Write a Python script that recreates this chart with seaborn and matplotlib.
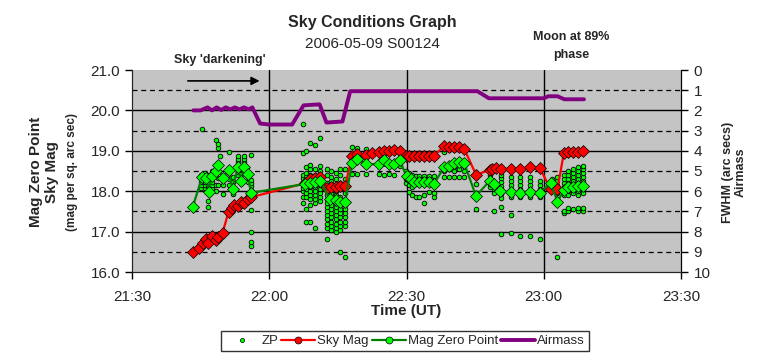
import numpy as np
import pandas as pd
import matplotlib
matplotlib.use("Agg")
import matplotlib.pyplot as plt
from matplotlib.lines import Line2D
import seaborn as sns

# Tiempo en minutos despues de 21:30 UT
sky_time = [13.3, 14.7, 15.5, 16.2, 16.7, 17.4, 18.3, 18.9, 19.8, 21.1, 21.8, 22.4, 23.1, 23.8,
            24.5, 25.3, 26.0, 37.9, 39.0, 40.1, 41.2, 42.6, 43.4, 44.5, 45.5, 46.6, 48.1, 49.2,
            51.2, 52.5, 53.9, 55.0, 56.1, 57.2, 58.5, 59.8, 60.5, 61.6, 62.7, 63.8, 64.9, 66.0,
            68.2, 69.3, 70.4, 71.5, 72.6, 75.2, 78.2, 78.7, 79.5, 80.6, 82.8, 84.7, 86.9, 89.1,
            91.5, 93.0, 94.4, 95.2, 96.3, 97.4, 98.6]
sky_mag = [16.50, 16.60, 16.73, 16.81, 16.73, 16.89, 16.79, 16.87, 16.97, 17.49, 17.58, 17.66,
           17.64, 17.74, 17.72, 17.80, 17.85, 18.20, 18.29, 18.32, 18.34, 18.07, 18.10, 18.10,
           18.12, 18.13, 18.88, 18.91, 18.90, 18.95, 18.97, 18.99, 19.00, 19.01, 19.00, 18.87,
           18.87, 18.87, 18.87, 18.87, 18.87, 18.87, 19.12, 19.09, 19.09, 19.09, 19.05, 18.41,
           18.52, 18.55, 18.57, 18.54, 18.56, 18.56, 18.59, 18.58, 18.05, 18.06, 18.95, 18.96,
           18.96, 18.96, 18.99]

mzp_time = [13.3, 15.3, 16.2, 16.9, 17.4, 18.3, 18.9, 19.8, 21.1, 22.0, 23.1, 23.9, 24.5, 25.3,
            26.0, 37.9, 39.0, 40.1, 41.2, 43.2, 44.5, 45.5, 46.6, 48.1, 49.2, 51.2, 53.9, 55.0,
            56.1, 57.2, 58.5, 60.0, 60.9, 61.6, 62.7, 63.8, 64.9, 66.0, 68.2, 69.3, 70.4, 71.5,
            72.6, 75.2, 78.2, 79.1, 80.4, 82.8, 84.7, 86.9, 89.1, 91.5, 93.0, 94.4, 95.3, 96.3,
            97.4, 98.6]
mzp_mag = [17.62, 18.34, 18.32, 17.99, 18.38, 18.51, 18.65, 18.32, 18.52, 18.05, 18.61, 18.26,
           18.61, 18.43, 17.96, 18.18, 18.21, 18.23, 18.25, 17.80, 17.78, 17.74, 17.74, 18.71,
           18.80, 18.67, 18.67, 18.77, 18.67, 18.67, 18.76, 18.38, 18.29, 18.22, 18.22, 18.22,
           18.22, 18.18, 18.59, 18.62, 18.71, 18.72, 18.70, 17.88, 18.26, 18.18, 18.00, 17.97,
           17.96, 17.99, 17.96, 18.21, 17.74, 18.03, 18.11, 18.11, 18.13, 18.13]

airmass_time = [13.4, 15.0, 16.5, 17.5, 18.5, 19.5, 20.5, 21.5, 22.5, 23.5, 24.5, 25.5, 26.3,
                28.0, 30.0, 35.0, 37.5, 41.0, 42.5, 46.0, 47.7, 75.5, 78.0, 90.0, 91.0, 93.0,
                94.5, 98.8]
airmass = [2.00, 2.00, 1.85, 2.00, 1.85, 1.98, 1.85, 1.95, 1.85, 1.95, 1.85, 1.95, 1.85, 2.65,
           2.70, 2.70, 1.75, 1.70, 2.60, 2.55, 1.05, 1.05, 1.40, 1.40, 1.30, 1.30, 1.45, 1.45]

# ZP individuales: (tiempo, lista de magnitudes)
zp_columns = [
    (13.3, [17.55]),
    (15.0, [18.08, 18.16, 18.24, 18.32, 18.40]),
    (15.4, [19.54]),
    (16.0, [18.08, 18.16, 18.24, 18.32, 18.40, 18.46]),
    (16.7, [17.60, 17.76, 18.08, 18.16, 18.24, 18.40]),
    (17.4, [18.08, 18.16, 18.24, 18.40, 18.50]),
    (18.3, [18.00, 18.16, 18.50, 19.27]),
    (18.9, [18.16, 18.32, 18.60, 18.70, 19.08, 19.16]),
    (19.3, [18.88]),
    (19.8, [17.92, 18.16, 18.30]),
    (21.2, [18.16, 18.30, 18.44, 18.98]),
    (22.0, [17.92, 18.10, 18.24, 18.36]),
    (23.1, [18.40, 18.48, 18.56, 18.64, 18.72, 18.80, 18.88]),
    (23.9, [18.20, 18.30, 18.42]),
    (24.5, [18.48, 18.56, 18.64, 18.72, 18.80, 18.88]),
    (25.3, [18.22, 18.34]),
    (26.0, [16.65, 16.74, 17.00, 17.53, 17.80, 17.96, 18.04, 18.12, 18.20, 18.28, 18.90]),
    (37.4, [17.70, 17.85, 18.00, 18.08, 18.16, 18.24, 18.32, 18.40, 18.95, 19.66]),
    (38.1, [17.25, 17.55, 17.85, 17.95, 18.05, 18.15, 18.25, 18.35, 18.45, 18.60, 19.00]),
    (39.0, [17.25, 17.65, 17.80, 17.90, 18.00, 18.10, 18.20, 18.30, 18.40, 18.55, 18.65, 19.19]),
    (40.1, [17.10, 17.70, 17.80, 17.90, 18.00, 18.10, 18.20, 18.40, 18.55, 19.14]),
    (41.2, [17.75, 17.85, 17.95, 18.05, 18.15, 18.35, 18.50, 18.62, 19.32]),
    (42.6, [16.82, 17.10, 17.20, 17.30, 17.40, 17.50, 17.60, 17.70, 17.80, 17.90, 18.00, 18.20,
            18.40, 18.55]),
    (43.4, [17.05, 17.15, 17.25, 17.35, 17.45, 17.55, 17.65, 17.85, 17.95, 18.05, 18.25, 18.35,
            18.50]),
    (44.5, [17.00, 17.10, 17.20, 17.30, 17.40, 17.50, 17.60, 17.70, 17.90, 18.00, 18.15, 18.30,
            18.45]),
    (45.5, [16.49, 17.05, 17.15, 17.25, 17.35, 17.45, 17.55, 17.65, 17.85, 18.05, 18.20, 18.40,
            18.55]),
    (46.6, [16.38, 17.15, 17.25, 17.35, 17.45, 17.55, 17.65, 17.75, 17.95, 18.10, 18.30, 18.55]),
    (48.1, [18.42, 19.10]),
    (49.2, [18.42, 19.08]),
    (51.2, [18.42, 19.04]),
    (53.9, [18.42]),
    (55.0, [18.40]),
    (56.1, [18.42]),
    (57.2, [18.40]),
    (58.5, [18.62, 18.70]),
    (59.8, [18.20, 18.30, 18.40, 18.50]),
    (60.5, [17.99, 18.15, 18.25, 18.35, 18.45]),
    (61.2, [17.90, 18.10, 18.20, 18.30, 18.40]),
    (62.0, [17.85, 18.18, 18.28, 18.38]),
    (62.7, [17.85, 18.18, 18.28, 18.38]),
    (63.8, [17.72, 17.90, 18.18, 18.28, 18.38]),
    (64.9, [17.99, 18.18, 18.28, 18.38]),
    (66.0, [17.85, 17.95, 18.18, 18.28, 18.38]),
    (68.2, [18.36, 18.50, 18.98]),
    (69.3, [18.36, 18.55, 18.62]),
    (70.4, [18.36, 18.50, 18.60, 18.68]),
    (71.5, [18.36, 18.55, 18.65]),
    (72.6, [18.36, 18.50, 18.62]),
    (75.3, [17.56, 18.19]),
    (78.2, [18.10, 18.40]),
    (79.1, [17.51, 17.95, 18.05]),
    (80.6, [16.93, 17.62, 17.82, 17.92, 18.02, 18.12, 18.22, 18.32, 18.40]),
    (82.8, [16.96, 17.41, 17.85, 17.95, 18.05, 18.15, 18.25, 18.35]),
    (84.8, [16.89, 17.85, 17.95, 18.05, 18.15, 18.25, 18.35]),
    (86.9, [16.89, 17.85, 17.95, 18.05, 18.15, 18.25, 18.35]),
    (89.1, [16.82, 17.85, 17.95, 18.05, 18.15, 18.25]),
    (91.9, [18.20, 18.30]),
    (93.0, [16.38, 17.95, 18.05, 18.15, 18.25, 18.35]),
    (94.4, [17.45, 17.52, 17.90, 18.00, 18.10, 18.20, 18.30, 18.40]),
    (95.3, [17.50, 17.58, 17.90, 18.00, 18.10, 18.20, 18.30, 18.40, 18.50]),
    (96.3, [17.55, 17.95, 18.05, 18.15, 18.25, 18.35, 18.45, 18.55]),
    (97.4, [17.52, 17.58, 17.90, 18.00, 18.10, 18.20, 18.30, 18.40, 18.50, 18.60]),
    (98.6, [17.50, 17.58, 17.95, 18.05, 18.15, 18.25, 18.35, 18.45, 18.55, 18.62]),
]

time_ticks = [0, 30, 60, 90, 120]
time_labels = ["21:30", "22:00", "22:30", "23:00", "23:30"]

zp_df = pd.DataFrame([(t, m) for t, ms in zp_columns for m in ms], columns=["t", "mag"])

sns.set_style("ticks")
plt.rcParams['font.family'] = ['Liberation Sans', 'DejaVu Sans']

fig = plt.figure(figsize=(7.64, 3.59), dpi=100)
ax = fig.add_axes([132/764, 1 - 272/359, (681 - 132)/764, (272 - 70)/359])
ax.set_facecolor('#c4c4c4')

# Rejilla
for y in np.arange(16.5, 21, 1.0):
    ax.axhline(y, color='black', lw=0.9, ls=(0, (4, 3)), zorder=1)
for y in range(17, 21):
    ax.axhline(y, color='black', lw=1.0, zorder=1)
for x in time_ticks[1:-1]:
    ax.axvline(x, color='black', lw=1.0, zorder=1)

sns.scatterplot(data=zp_df, x="t", y="mag", ax=ax, color='#00ff00', edgecolor='black',
                linewidth=0.6, s=11, zorder=3, legend=False)
sns.lineplot(x=sky_time, y=sky_mag, ax=ax, color='#ff0000', lw=1.6, marker='D', markersize=6,
             markerfacecolor='#ff0000', markeredgecolor='black', markeredgewidth=0.5,
             estimator=None, sort=False, zorder=4)
sns.lineplot(x=mzp_time, y=mzp_mag, ax=ax, color='#008000', lw=1.6, marker='D', markersize=6,
             markerfacecolor='#00ff00', markeredgecolor='black', markeredgewidth=0.5,
             estimator=None, sort=False, zorder=5)

ax.set_xlim(0, 120)
ax.set_ylim(16, 21)
ax.set_xticks(time_ticks)
ax.set_xticklabels(time_labels, fontsize=11)
ax.set_yticks(range(16, 22))
ax.set_yticklabels([f"{v:.1f}" for v in range(16, 22)], fontsize=11)
ax.tick_params(axis='both', direction='out', length=5, width=1, color='black')
ax.tick_params(axis='x', pad=8)
ax.set_xlabel("Time (UT)", fontsize=11, fontweight='bold', labelpad=0)
ax.set_ylabel("")
for s in ['left', 'bottom', 'right']:
    ax.spines[s].set_color('black')
ax.spines['top'].set_visible(False)

ax2 = ax.twinx()
sns.lineplot(x=airmass_time, y=airmass, ax=ax2, color='#800080', lw=2.8,
             estimator=None, sort=False, zorder=2)
ax2.set_ylim(10, 0)
ax2.set_yticks(range(0, 11))
ax2.set_yticklabels([str(v) for v in range(0, 11)], fontsize=11)
ax2.tick_params(axis='y', direction='out', length=5, width=1, color='black', pad=4)
ax2.set_ylabel("")
ax2.spines['top'].set_visible(False)
ax2.spines['right'].set_color('black')

# Titulos y etiquetas
fig.text(372/764, 1 - 22/359, "Sky Conditions Graph", ha='center', va='center',
         fontsize=11.5, fontweight='bold')
fig.text(372/764, 1 - 44/359, "2006-05-09 S00124", ha='center', va='center', fontsize=11)
fig.text(44/764, 1 - 172/359, "Mag Zero Point\nSky Mag", rotation=90, ha='center', va='center',
         fontsize=11, fontweight='bold', linespacing=1.2)
fig.text(72/764, 1 - 172/359, "(mag per sq. arc sec)", rotation=90, ha='center', va='center',
         fontsize=8.5, fontweight='bold')
fig.text(734/764, 1 - 172/359, "FWHM (arc secs)\nAirmass", rotation=90, ha='center',
         va='center', fontsize=9, fontweight='bold', linespacing=1.1)

fig.text(220/764, 1 - 60/359, "Sky 'darkening'", ha='center', va='center', fontsize=9,
         fontweight='bold')
fig.text(571/764, 1 - 46/359, "Moon at 89%\nphase", ha='center', va='center', fontsize=9,
         fontweight='bold', linespacing=1.6)
ax.annotate("", xy=(28.5, 20.73), xytext=(11.6, 20.73),
            arrowprops=dict(arrowstyle='-|>', color='black', lw=1.2, mutation_scale=12),
            zorder=6)

handles = [
    Line2D([], [], ls='none', marker='o', markersize=3, markerfacecolor='#00ff00',
           markeredgecolor='black', markeredgewidth=0.5),
    Line2D([], [], color='#ff0000', lw=1.6, marker='o', markersize=5,
           markerfacecolor='#ff0000', markeredgecolor='black', markeredgewidth=0.5),
    Line2D([], [], color='#008000', lw=1.6, marker='o', markersize=5,
           markerfacecolor='#00ff00', markeredgecolor='black', markeredgewidth=0.5),
    Line2D([], [], color='#800080', lw=2.8),
]
leg = fig.legend(handles, ["ZP", "Sky Mag", "Mag Zero Point", "Airmass"], ncol=4,
                 loc='center', bbox_to_anchor=(405/764, 1 - 341/359), fontsize=9.5,
                 frameon=True, fancybox=False, edgecolor='black', handlelength=2.6,
                 handletextpad=0.15, columnspacing=0.2, borderpad=0.3, borderaxespad=0)
leg.get_frame().set_linewidth(1.0)

fig.savefig("out.png", dpi=100)
